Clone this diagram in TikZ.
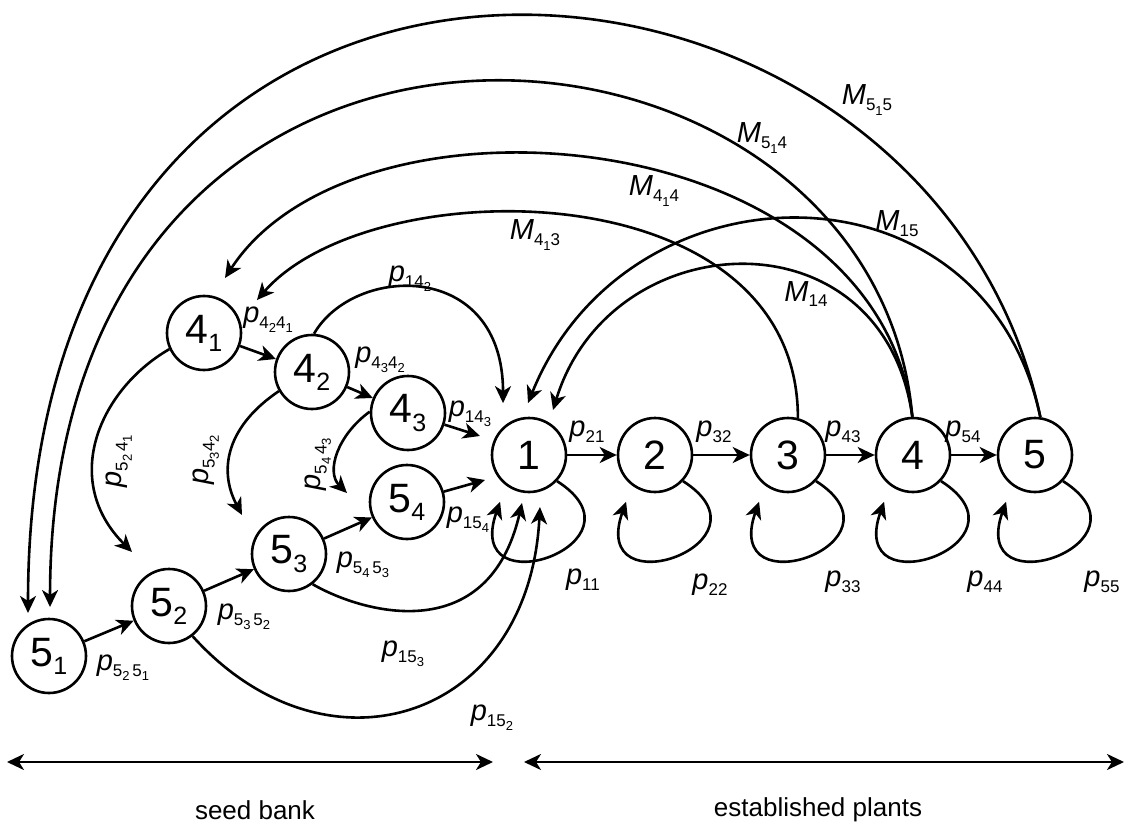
\documentclass[tikz,border=0pt]{standalone}
\usepackage{fontspec}
\setmainfont{Liberation Sans}
\usetikzlibrary{arrows.meta,calc}
% first and second level subscripts
\newcommand\sA[1]{\raisebox{-0.2em}{\fontsize{8.5}{10}\selectfont #1}}
\newcommand\sB[1]{\raisebox{-0.25em}{\fontsize{6.5}{8}\selectfont #1}}
\newcommand\sN[1]{\raisebox{-0.2em}{\fontsize{12.5}{14}\selectfont #1}}
\newcommand\pl[1]{\textit{p}\sA{#1}}
\newcommand\Ml[1]{\textit{M}\sA{#1}}
\begin{document}
\begin{tikzpicture}[x=0.5pt,y=0.5pt,
  st/.style={circle,draw,line width=1.3pt,minimum size=37pt,inner sep=0pt,fill=white,font=\fontsize{20.5}{24}\selectfont},
  lbl/.style={font=\fontsize{14.5}{17}\selectfont,inner sep=0pt},
  btxt/.style={font=\fontsize{13}{15}\selectfont,inner sep=0pt},
  arr/.style={line width=1.3pt,-{Stealth[length=8.5pt,width=8pt,inset=2.5pt]}},
  darr/.style={line width=1.3pt,{Stealth[length=8.5pt,width=8pt,inset=2.5pt]}-{Stealth[length=8.5pt,width=8pt,inset=2.5pt]}},
]
\useasboundingbox (0,0) rectangle (1126,827);
% states
\node[st] (n1) at (529,372) {1};
\node[st] (n2) at (655,372) {2};
\node[st] (n3) at (788,372) {3};
\node[st] (n4) at (913,372) {4};
\node[st] (n5) at (1035,372) {5};
\node[st] (a41) at (204,494) {4\sN{1}};
\node[st] (a42) at (312,455) {4\sN{2}};
\node[st] (a43) at (408,414) {4\sN{3}};
\node[st] (b54) at (407,325) {5\sN{4}};
\node[st] (b53) at (289,273) {5\sN{3}};
\node[st] (b52) at (169,221) {5\sN{2}};
\node[st] (b51) at (49,171) {5\sN{1}};
% free arrow ends
\coordinate (t142) at ($(n1)+(116.6:58)$);
\coordinate (t15)  at ($(n1)+(91.1:52)$);
\coordinate (t14)  at ($(n1)+(61.9:51)$);
\coordinate (t143) at ($(n1)+(158.8:52.6)$);
\coordinate (t154) at ($(n1)+(209.6:50.6)$);
\coordinate (t153) at ($(n1)+(261.7:48.5)$);
\coordinate (t152) at ($(n1)+(281.9:53.2)$);
\coordinate (t515) at ($(b51)+(116:47.9)$);
\coordinate (t514) at ($(b51)+(88.8:49)$);
\coordinate (t414) at ($(a41)+(69.1:58.9)$);
\coordinate (t413) at ($(a41)+(31.9:62.4)$);
\coordinate (t5241) at ($(b52)+(124.4:65.5)$);
\coordinate (t5342) at ($(b53)+(140.3:61.1)$);
\coordinate (t5443) at ($(b54)+(171.5:60.7)$);
\foreach \k in {1,...,5}{\coordinate (lt\k) at ($(n\k)+(238.3:55)$);}
% straight transitions
\draw[arr] (n1) -- (n2);
\draw[arr] (n2) -- (n3);
\draw[arr] (n3) -- (n4);
\draw[arr] (n4) -- (n5);
\draw[arr] (b51) -- (b52);
\draw[arr] (b52) -- (b53);
\draw[arr] (b53) -- (b54);
\draw[arr] (a41) -- (a42);
\draw[arr] (a42) -- (a43);
\draw[arr] (a43) -- (t143);
\draw[arr] (b54) -- (t154);
% self loops
\foreach \k in {1,...,5}{\draw[arr] (n\k.-43) .. controls +(-32.5:115) and +(-109.4:115) .. (lt\k);}
% long arcs
\draw[arr] (n5.82) .. controls +(102:540) and +(90:800) .. (t515);
\draw[arr] (n4.91) .. controls +(95:446) and +(90:700) .. (t514);
\draw[arr] (n4.91) .. controls +(97:300) and +(57:239) .. (t414);
\draw[arr] (n3.75) .. controls +(90:250) and +(49:173) .. (t413);
\draw[arr] (n5.82) .. controls +(102:270) and +(68:265) .. (t15);
\draw[arr] (n4.91) .. controls +(98:210) and +(73:196) .. (t14);
% seed bank arcs
\draw[arr] (a42.87) .. controls +(60:80) and +(90:144) .. (t142);
\draw[arr] (b53.-52) .. controls +(-30:60) and +(-103:148) .. (t153);
\draw[arr] (b52.-52) .. controls +(-48:200) and +(-93:214) .. (t152);
\draw[arr] (a41.205) .. controls +(210:80) and +(135:102) .. (t5241);
\draw[arr] (a42.210) .. controls +(214:62) and +(118:52) .. (t5342);
\draw[arr] (a43.178) .. controls +(216:40) and +(135:30) .. (t5443);
% labels
\node[lbl] (Lm515) at (867,727) {\Ml{5\sB{1}5}};
\node[lbl] (Lm514) at (762,689) {\Ml{5\sB{1}4}};
\node[lbl] (Lm414) at (654,636) {\Ml{4\sB{1}4}};
\node[lbl] (Lm413) at (535,592) {\Ml{4\sB{1}3}};
\node[lbl] (Lm15) at (897,603) {\Ml{15}};
\node[lbl] (Lm14) at (806,533) {\Ml{14}};
\node[lbl] (Lp142) at (410,548) {\pl{14\sB{2}}};
\node[lbl] (Lp4241) at (268,507) {\pl{4\sB{2}4\sB{1}}};
\node[lbl] (Lp4342) at (380,467) {\pl{4\sB{3}4\sB{2}}};
\node[lbl] (Lp143) at (470,413) {\pl{14\sB{3}}};
\node[lbl] (Lp154) at (468,307) {\pl{15\sB{4}}};
\node[lbl] (Lp5453) at (363,262) {\pl{5\sB{4}\,5\sB{3}}};
\node[lbl] (Lp5352) at (244,210) {\pl{5\sB{3}\,5\sB{2}}};
\node[lbl] (Lp5251) at (123,159) {\pl{5\sB{2}\,5\sB{1}}};
\node[lbl] (Lp153) at (403,173) {\pl{15\sB{3}}};
\node[lbl] (Lp152) at (492,109) {\pl{15\sB{2}}};
\node[lbl,rotate=90] (Lp5241) at (119,366) {\pl{5\sB{2}\,4\sB{1}}};
\node[lbl,rotate=90] (Lp5342) at (206,367) {\pl{5\sB{3}4\sB{2}}};
\node[lbl,rotate=90] (Lp5443) at (318,363) {\pl{5\sB{4}\,4\sB{3}}};
\node[lbl] (Lp21) at (587,395) {\pl{21}};
\node[lbl] (Lp32) at (714,395) {\pl{32}};
\node[lbl] (Lp43) at (843,395) {\pl{43}};
\node[lbl] (Lp54) at (963,395) {\pl{54}};
\node[lbl] (Lp11) at (583,247) {\pl{11}};
\node[lbl] (Lp22) at (710,242) {\pl{22}};
\node[lbl] (Lp33) at (843,245) {\pl{33}};
\node[lbl] (Lp44) at (985,245) {\pl{44}};
\node[lbl] (Lp55) at (1102,245) {\pl{55}};
% bottom ranges
\coordinate (sbL) at (7,65);
\coordinate (sbR) at (493,65);
\coordinate (epL) at (524,65);
\coordinate (epR) at (1124,65);
\draw[darr] (sbL) -- (sbR);
\draw[darr] (epL) -- (epR);
\node[btxt] (Lsb) at (255,17) {seed bank};
\node[btxt] (Lep) at (818,17) {established plants};
\end{tikzpicture}
\end{document}
